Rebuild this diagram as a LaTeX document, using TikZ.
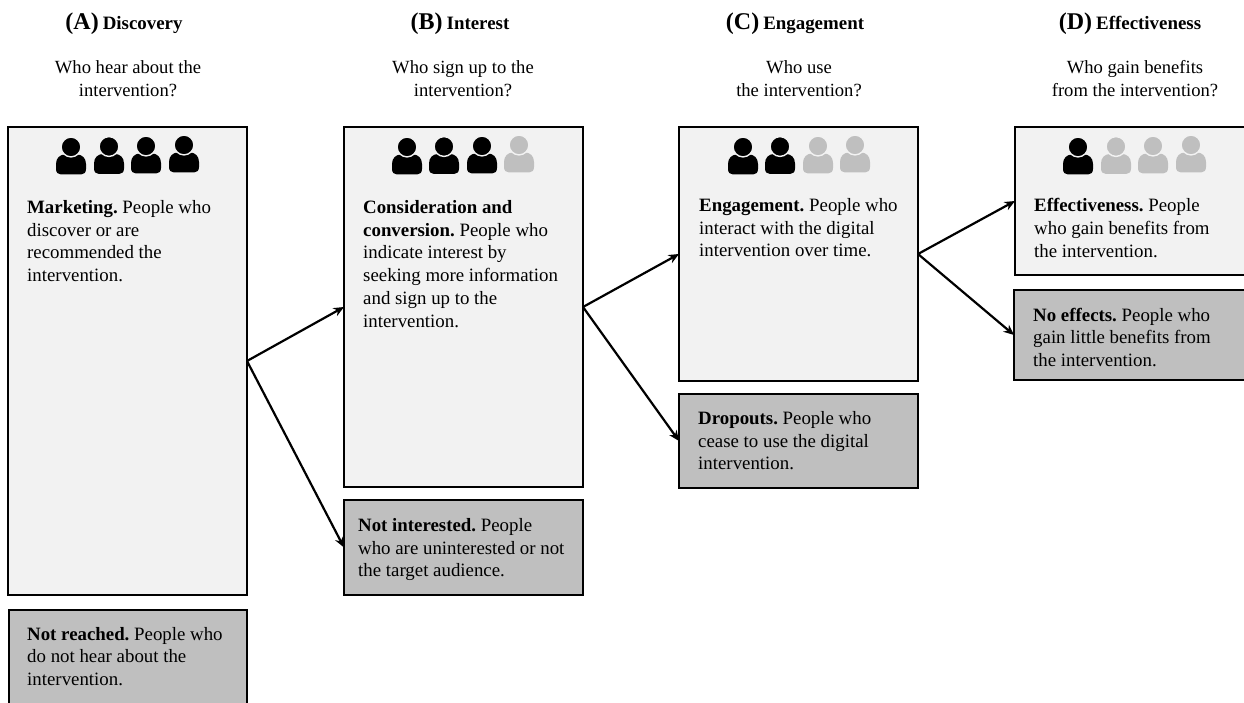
\documentclass[tikz,border=0pt]{standalone}
\usepackage{fontspec}
\setmainfont{Liberation Serif}
\usetikzlibrary{arrows.meta}
\definecolor{lightbox}{HTML}{F2F2F2}
\definecolor{darkbox}{HTML}{BFBFBF}
\tikzset{
  boxbase/.style={draw=black,line width=2.2pt,anchor=north west,inner sep=0pt,outer sep=0pt},
  lightstage/.style={boxbase,fill=lightbox},
  darkstage/.style={boxbase,fill=darkbox},
  bodytext/.style={anchor=north west,inner sep=0pt,align=left,text=black,font=\fontsize{18.85pt}{22.7pt}\selectfont},
  question/.style={anchor=center,inner sep=0pt,align=center,font=\fontsize{18.6pt}{22.7pt}\selectfont},
  heading/.style={anchor=base,inner sep=0pt,font=\bfseries\fontsize{18.9pt}{22pt}\selectfont},
  flow/.style={-{Stealth[length=10.5pt,width=9pt]},line width=2.2pt},
  pics/person/.style={code={
    \fill[#1] (-15,22) -- (-15,17) .. controls (-15,11) and (-11,7.5) .. (-6,7.5) -- (6,7.5) .. controls (11,7.5) and (15,11) .. (15,17) -- (15,22) .. controls (15,25.5) and (13,27.5) .. (10,27.5) -- (-10,27.5) .. controls (-13,27.5) and (-15,25.5) .. (-15,22) -- cycle;
    \filldraw[fill=#1,draw=lightbox,line width=1.4pt] (0,0) circle (9.9pt);
  }}
}
\newcommand{\lead}[1]{\textbf{#1}}
\newcommand{\titled}[2]{{\fontsize{24pt}{24pt}\selectfont #1}\hspace{4pt}#2}
\begin{document}
\frenchspacing
\begin{tikzpicture}[x=1pt,y=-1pt]
\clip (0,0) rectangle (1244,703);
\fill[white] (0,0) rectangle (1244,703);
% headings
\node[heading] (ha) at (124,30) {\titled{(A)}{Discovery}};
\node[heading] (hb) at (460,30) {\titled{(B)}{Interest}};
\node[heading] (hc) at (795,30) {\titled{(C)}{Engagement}};
\node[heading] (hd) at (1130,30) {\titled{(D)}{Effectiveness}};
% questions
\node[question] (qa) at (128,78.6) {Who hear about the\\intervention?};
\node[question] (qb) at (463,78.6) {Who sign up to the\\intervention?};
\node[question] (qc) at (799,78.6) {Who use\\the intervention?};
\node[question] (qd) at (1135,78.6) {Who gain benefits\\from the intervention?};
% boxes
\node[lightstage,minimum width=239pt,minimum height=468pt] (A) at (8,127) {};
\node[lightstage,minimum width=239pt,minimum height=360pt] (B) at (344,127) {};
\node[lightstage,minimum width=239pt,minimum height=254pt] (C) at (679,127) {};
\node[lightstage,minimum width=250pt,minimum height=148pt] (D) at (1015,127) {};
\node[darkstage,minimum width=238pt,minimum height=110pt] (nA) at (9,610) {};
\node[darkstage,minimum width=239pt,minimum height=95pt] (nB) at (344,500) {};
\node[darkstage,minimum width=239pt,minimum height=94pt] (nC) at (679,394) {};
\node[darkstage,minimum width=250pt,minimum height=90pt] (nD) at (1014,290) {};
% people
\pic at (71,147) {person=black};
\pic at (109,146.5) {person=black};
\pic at (146,146) {person=black};
\pic at (184,145) {person=black};
\pic at (407,147) {person=black};
\pic at (444,146.5) {person=black};
\pic at (482,146) {person=black};
\pic at (519,145) {person=darkbox};
\pic at (743,147) {person=black};
\pic at (780,146.5) {person=black};
\pic at (818,146) {person=darkbox};
\pic at (855,145) {person=darkbox};
\pic at (1078,147) {person=black};
\pic at (1116,146.5) {person=darkbox};
\pic at (1153,146) {person=darkbox};
\pic at (1191,145) {person=darkbox};
% texts
\node[bodytext] (tA) at (27,200.3) {\lead{Marketing.} People who\\discover or are\\recommended the\\intervention.};
\node[bodytext] (tB) at (363,200.3) {\lead{Consideration and}\\\lead{conversion.} People who\\indicate interest by\\seeking more information\\and sign up to the\\intervention.};
\node[bodytext] (tC) at (699,198.3) {\lead{Engagement.} People who\\interact with the digital\\intervention over time.};
\node[bodytext] (tD) at (1034,198.3) {\lead{Effectiveness.} People\\who gain benefits from\\the intervention.};
\node[bodytext] (tnA) at (27,626.8) {\lead{Not reached.} People who\\do not hear about the\\intervention.};
\node[bodytext] (tnB) at (358,518.3) {\lead{Not interested.} People\\who are uninterested or not\\the target audience.};
\node[bodytext] (tnC) at (698,411.3) {\lead{Dropouts.} People who\\cease to use the digital\\intervention.};
\node[bodytext] (tnD) at (1033,307.8) {\lead{No effects.} People who\\gain little benefits from\\the intervention.};
% arrows
\draw[flow] (A.east) -- (B.west);
\draw[flow] (A.east) -- (nB.west);
\draw[flow] (B.east) -- (C.west);
\draw[flow] (B.east) -- (nC.west);
\draw[flow] (C.east) -- (D.west);
\draw[flow] (C.east) -- (nD.west);
\end{tikzpicture}
\end{document}
